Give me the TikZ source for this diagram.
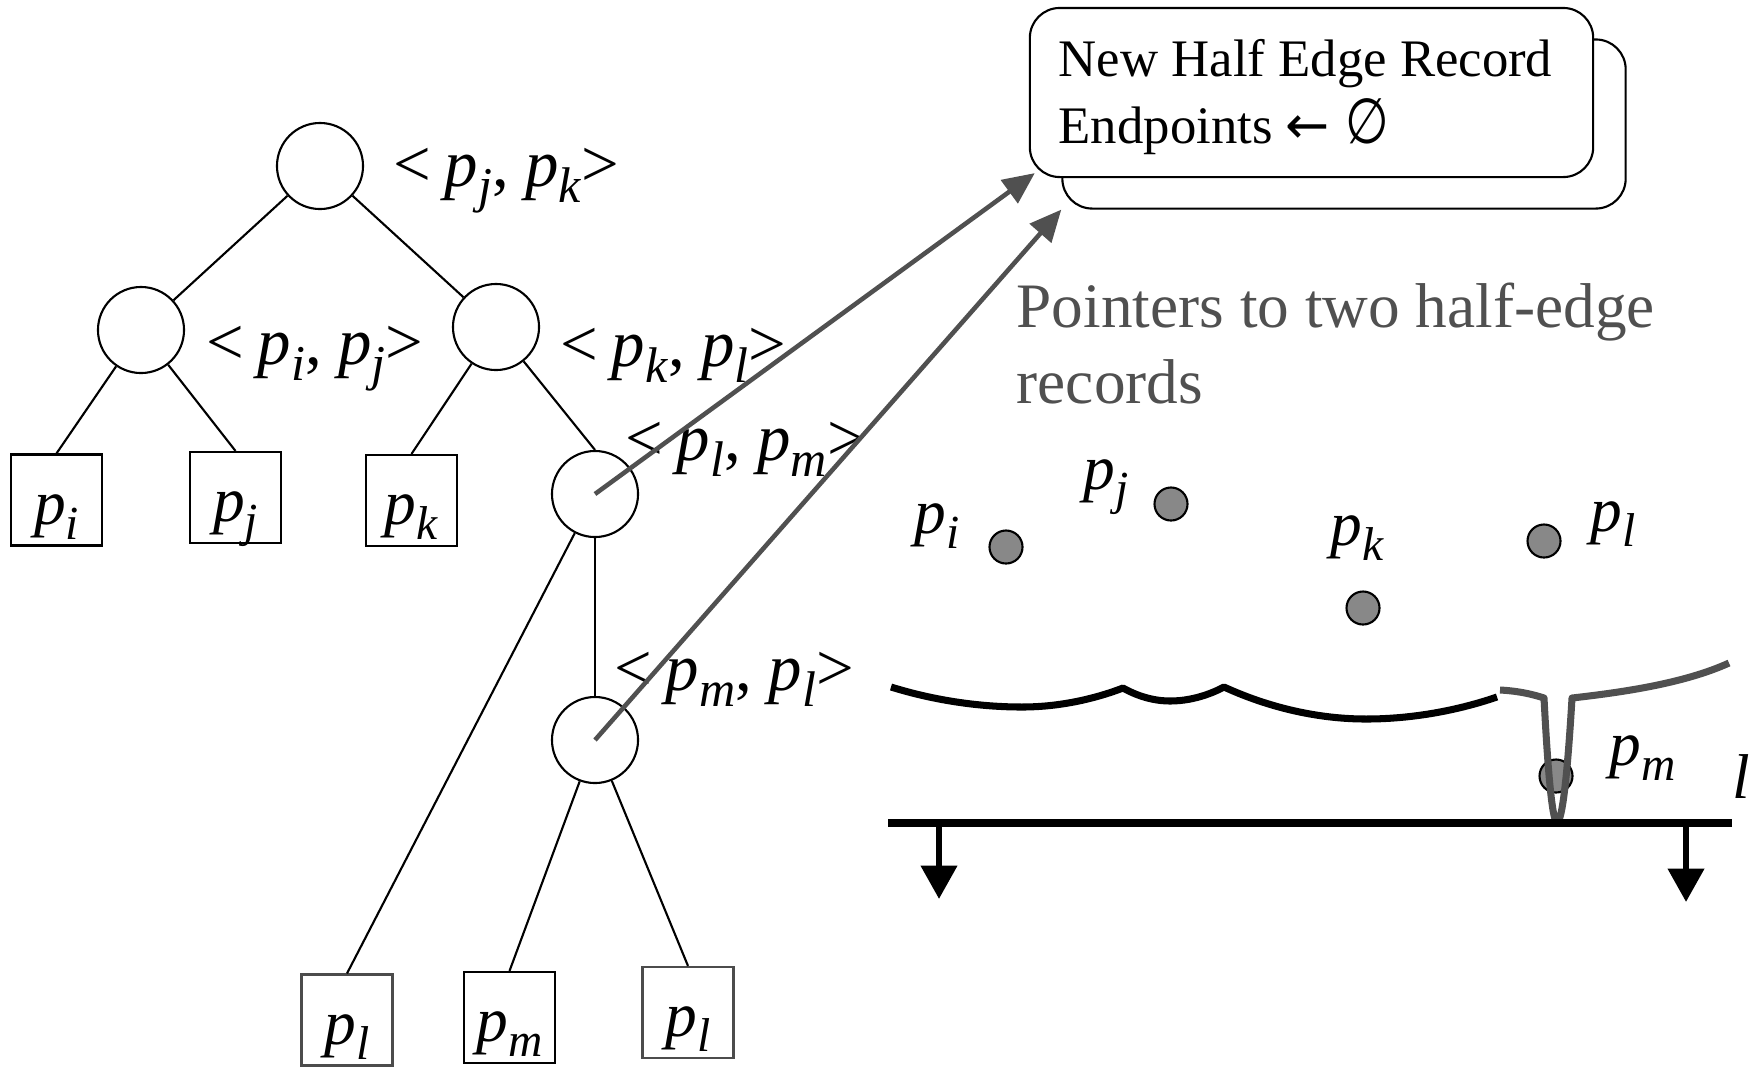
\documentclass[tikz,border=0pt]{standalone}
\usepackage{fontspec}
\usepackage{graphicx}
\setmainfont{Liberation Serif}
\newfontfamily\symfont{DejaVu Sans}
\usetikzlibrary{arrows.meta,calc}
\definecolor{ptrgray}{HTML}{505050}
\definecolor{sitegray}{HTML}{888888}
\newcommand\pp[1]{\textit{p}\raisebox{-0.24em}{\scalebox{0.75}{\textit{#1}}}}
\newcommand\labfont{\fontsize{18pt}{21pt}\selectfont}
\newcommand\treefont{\fontsize{19pt}{22pt}\selectfont}
\begin{document}
\begin{tikzpicture}[x=0.01cm,y=-0.01cm,
  tnode/.style={circle,draw,line width=0.6pt,minimum size=0.86cm,inner sep=0pt},
  leaf/.style={rectangle,draw,line width=0.6pt,minimum size=0.91cm,inner sep=0pt,
    font=\labfont,text height=15pt,text depth=1.3pt},
  leafgray/.style={leaf,draw=black!70},
  edge/.style={line width=0.6pt},
  lbl/.style={font=\labfont,inner sep=0pt,anchor=base west},
  tlbl/.style={font=\treefont,inner sep=0pt,anchor=base west},
  ptr/.style={draw=ptrgray,line width=1.3pt,-{Triangle[length=9pt,width=8pt]},color=ptrgray},
  site/.style={circle,draw,fill=sitegray,line width=0.6pt,minimum size=0.33cm,inner sep=0pt},
  rec/.style={draw,rounded corners=8.5pt,line width=0.6pt,fill=white,minimum width=5.63cm,minimum height=1.69cm},
  beach/.style={line width=2pt,line join=round},
  down/.style={line width=1.9pt,-{Triangle[length=9.5pt,width=10pt]}}
]
\useasboundingbox (0,0) rectangle (1755,1066);

% record boxes
\node[rec] (rec2) at (1344,124) {};
\node[rec] (rec) at (1311.5,92.5) {};
\node[inner sep=0pt,anchor=base west,font=\fontsize{15pt}{18pt}\selectfont] (rl1) at (1058,76) {New Half Edge Record};
\node[inner sep=0pt,anchor=base west,font=\fontsize{15pt}{18pt}\selectfont] (rl2) at (1058,143) {Endpoints\hspace{0.25em}{\symfont ←}\hspace{0.3em}{\symfont\scalebox{0.95}[1.2]{∅}}};

% tree nodes
\node[tnode] (root) at (320,166) {};
\node[tnode] (lc) at (141,330) {};
\node[tnode] (rc) at (496,327) {};
\node[tnode] (plm) at (595,494) {};
\node[tnode] (pml) at (595,740) {};
\node[leaf] (pi) at (56.5,500) {\pp{i}};
\node[leaf] (pj) at (235.5,497.5) {\pp{j}};
\node[leaf] (pk) at (411.5,500.5) {\pp{k}};
\node[leafgray] (pl1) at (347,1020) {\pp{l}};
\node[leaf] (pm) at (509.5,1017.5) {\pp{m}};
\node[leafgray] (pl2) at (688,1012.5) {\pp{l}};

% tree edges
\draw[edge] (root) -- (lc);
\draw[edge] (root) -- (rc);
\draw[edge] (lc) -- (pi.north);
\draw[edge] (lc) -- (pj.north);
\draw[edge] (rc) -- (pk.north);
\draw[edge] (rc) -- (plm.north);
\draw[edge] (plm.south) -- (pml.north);
\draw[edge] (plm) -- (pl1.north);
\draw[edge] (pml) -- (pm.north);
\draw[edge] (pml) -- (pl2.north);

% tree labels
\node[tlbl] (Lroot) at (393,186) {<\hspace{0.2em}\pp{j}, \pp{k}>};
\node[tlbl] (Llc) at (206,364) {<\hspace{0.2em}\pp{i}, \pp{j}>};
\node[tlbl] (Lrc) at (560,366) {<\hspace{0.2em}\pp{k}, \pp{l}>};
\node[tlbl] (Lplm) at (625,460) {<\hspace{0.2em}\pp{l}, \pp{m}>};
\node[tlbl] (Lpml) at (614,690) {<\hspace{0.2em}\pp{m}, \pp{l}>};

% pointer text
\node[inner sep=0pt,anchor=base west,font=\fontsize{18pt}{21pt}\selectfont,text=ptrgray] (ptxt1) at (1016,327) {Pointers to two half-edge};
\node[inner sep=0pt,anchor=base west,font=\fontsize{18pt}{21pt}\selectfont,text=ptrgray] (ptxt2) at (1016,403) {records};

% pointer arrows
\coordinate (t1) at ($(rec.south west)+(6,-5)$);
\draw[ptr] (plm.center) -- (t1);
\draw[ptr] (pml.center) -- (rec2.south west);

% sites
\node[site] (si) at (1006,547) {};
\node[site] (sj) at (1171,504) {};
\node[site] (sk) at (1363,608) {};
\node[site] (sl) at (1544,541) {};
\node[site] (sm) at (1556,776) {};
\node[lbl] (li) at (914,533) {\pp{i}};
\node[lbl] (lj) at (1083,489) {\pp{j}};
\node[lbl] (lk) at (1330,545) {\pp{k}};
\node[lbl] (ll) at (1590,531) {\pp{l}};
\node[lbl] (lm) at (1609,765) {\pp{m}};
\node[lbl] (lline) at (1732,798) {\textit{l}};

% beach line
\draw[beach] (891,687) parabola bend (1022,707) (1123,688)
  parabola bend (1170,701) (1224,687)
  parabola bend (1366,719) (1497,697);
\draw[beach,draw=ptrgray] (1500,690) .. controls (1520,691) and (1535,695) .. (1544,698)
  parabola bend (1557,822) (1572,698)
  .. controls (1625,692) and (1685,683) .. (1729,663);

% sweep line
\coordinate (swL) at (888,823);
\coordinate (swR) at (1732,823);
\draw[line width=2.1pt] (swL) -- (swR);
\coordinate (dl0) at (939,823);
\coordinate (dl1) at (939,899);
\coordinate (dr0) at (1686,826);
\coordinate (dr1) at (1686,902);
\draw[down] (dl0) -- (dl1);
\draw[down] (dr0) -- (dr1);
\end{tikzpicture}
\end{document}
